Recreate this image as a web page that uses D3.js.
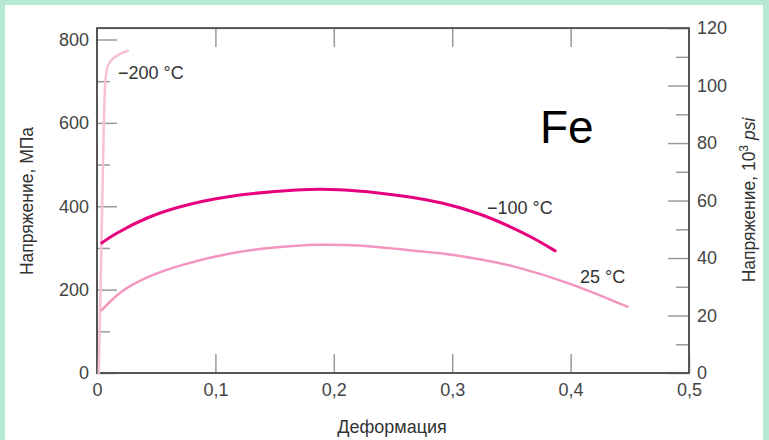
<!DOCTYPE html>
<html>
<head>
<meta charset="utf-8">
<script src="https://cdn.jsdelivr.net/npm/d3@7"></script>
<style>
body{margin:0;background:#b9e8d4;}
svg{display:block;font-family:"Liberation Sans",Arial,sans-serif;}
</style>
</head>
<body>
<svg id="svg" width="769" height="440"></svg>
<script>
// strain / stress (MPa)
var strain200=[0.0015,0.0035,0.0053,0.0065,0.0075,0.009,0.012,0.018,0.026];
var stress200=[0,270,535,670,712,735,750,763,773];
var strain100=[0.004,0.0135,0.042,0.0785,0.121,0.171,0.205,0.239,0.264,0.29,0.3235,0.35,0.368,0.387];
var stress100=[312,331,375,407,429,441,441,432,423,410,383,350,325,293];
var strain25=[0.004,0.02,0.042,0.07,0.112,0.15,0.188,0.22,0.256,0.29,0.324,0.351,0.397,0.448];
var stress25=[151,198,231,259,289,302,309,307,297,288,273,258,219,159];
var xTicks=[0,0.1,0.2,0.3,0.4,0.5];
var yMajor=[0,200,400,600,800];
var yMinor=[100,300,500,700];
var psiMajor=[0,20,40,60,80,100,120];
var psiMinor=[10,30,50,70,90,110];

var svg=d3.select("#svg");
svg.append("rect").attr("x",5).attr("y",5).attr("width",758).attr("height",435).attr("fill","#fff");

var left=97,right=689,bottom=373;
var x=d3.scaleLinear().domain([0,0.5]).range([left,right]);
var y=d3.scaleLinear().domain([0,800]).range([bottom,39.5]);
var yPsi=d3.scaleLinear().domain([0,120]).range([bottom,y(120*6.894757)]);
var yTop=yPsi(120);
var fmt=d=>d===0?"0":d3.format(".1f")(d).replace(".",",");

function styleAxis(g){
    g.select(".domain").remove();
    g.selectAll(".tick line").attr("stroke","#999").attr("stroke-width",1.5);
    g.selectAll(".tick text").attr("fill","#444").style("font-size","18px");
}

// ticks
svg.append("g").attr("transform","translate("+left+",0)")
    .call(d3.axisLeft(y).tickValues(yMinor).tickSize(-13).tickFormat(""))
    .call(styleAxis);
svg.append("g").attr("transform","translate("+left+",0)")
    .call(d3.axisLeft(y).tickValues(yMajor).tickSize(-20).tickPadding(8))
    .call(styleAxis);
svg.append("g").attr("transform","translate("+right+",0)")
    .call(d3.axisRight(yPsi).tickValues(psiMinor).tickSize(-13).tickFormat(""))
    .call(styleAxis);
svg.append("g").attr("transform","translate("+right+",0)")
    .call(d3.axisRight(yPsi).tickValues(psiMajor).tickSize(-21).tickPadding(8))
    .call(styleAxis);
svg.append("g").attr("transform","translate(0,"+bottom+")")
    .call(d3.axisBottom(x).tickValues(xTicks).tickSize(-19).tickPadding(10).tickFormat(fmt))
    .call(styleAxis);
svg.append("g").attr("transform","translate(0,"+yTop+")")
    .call(d3.axisTop(x).tickValues(xTicks.slice(1,5)).tickSize(-19).tickFormat(""))
    .call(styleAxis);

// frame
svg.append("rect").attr("x",left).attr("y",yTop).attr("width",right-left).attr("height",bottom-yTop)
    .attr("fill","none").attr("stroke","#555").attr("stroke-width",2);

// curves
var smooth=d3.line().x(d=>x(d[0])).y(d=>y(d[1])).curve(d3.curveBasis);
var steep=d3.line().x(d=>x(d[0])).y(d=>y(d[1])).curve(d3.curveCatmullRom.alpha(0.5));
var curves=[
    {sx:strain200,sy:stress200,color:"#f7c0d3",w:2.5,line:steep},
    {sx:strain25,sy:stress25,color:"#f396bf",w:2.5,line:smooth},
    {sx:strain100,sy:stress100,color:"#e6007e",w:3,line:smooth}
];
curves.forEach(c=>{
    svg.append("path").datum(c.sx.map((v,i)=>[v,c.sy[i]]))
        .attr("d",c.line).attr("fill","none").attr("stroke",c.color)
        .attr("stroke-width",c.w).attr("stroke-linecap","round");
});

// curve labels
var labels=[["−200 °C",0.0177,706],["−100 °C",0.3294,382],["25 °C",0.408,215]];
svg.selectAll(".lbl").data(labels).enter().append("text")
    .attr("x",d=>x(d[1])).attr("y",d=>y(d[2]))
    .attr("fill","#333").style("font-size","18px").text(d=>d[0]);

svg.append("text").attr("x",540).attr("y",143).style("font-size","46px").attr("fill","#000").text("Fe");

// axis titles
svg.append("text").attr("transform","translate(33,201) rotate(-90)").attr("text-anchor","middle")
    .attr("fill","#333").style("font-size","17.5px").text("Напряжение, МПа");
var rt=svg.append("text").attr("transform","translate(755,200) rotate(-90)").attr("text-anchor","middle")
    .attr("fill","#333").style("font-size","17.5px");
rt.append("tspan").text("Напряжение, 10");
rt.append("tspan").attr("dy",-7).style("font-size","12px").text("3");
rt.append("tspan").attr("dy",7).style("font-style","italic").text(" psi");
svg.append("text").attr("x",392).attr("y",433).attr("text-anchor","middle")
    .attr("fill","#333").style("font-size","18px").text("Деформация");
</script>
</body>
</html>
